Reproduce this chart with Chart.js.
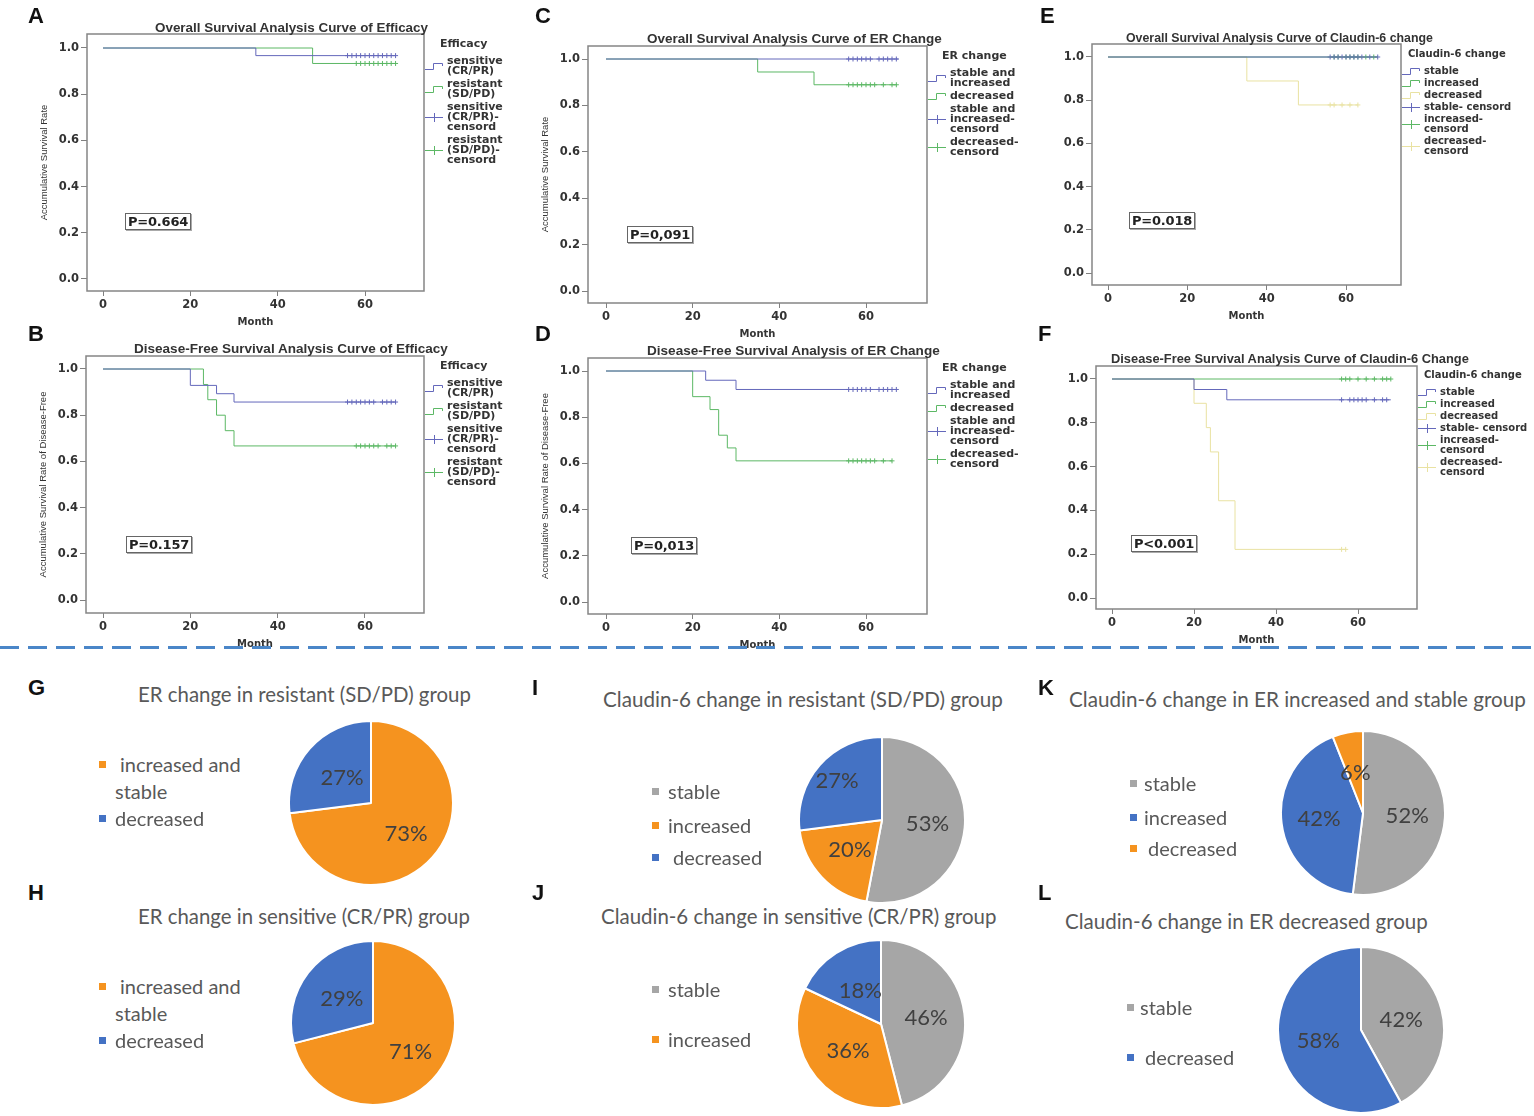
<!DOCTYPE html>
<html>
<head>
<meta charset="utf-8">
<script src="https://cdn.jsdelivr.net/npm/chart.js@4.4.1/dist/chart.umd.min.js"></script>
<style>
  body { margin: 0; background: #fff; }
  #page { position: relative; width: 1534px; height: 1116px; overflow: hidden; font-family: "Liberation Sans", Arial, sans-serif; }
  canvas { position: absolute; }
  .letter { position: absolute; font: bold 22px "Liberation Sans", Arial, sans-serif; color: #111; line-height: 22px; }
  .kmTitle { position: absolute; font: bold 11px "Liberation Sans", Arial, sans-serif; color: #333; white-space: nowrap; line-height: 12px; }
  .pbox { position: absolute; font: bold 13px "DejaVu Sans", sans-serif; color: #222; border: 1px solid #666; box-shadow: 1px 1px 0 #aaa; padding: 0 2px; line-height: 15px; background: #fff; letter-spacing: -0.2px; }
  .kmLeg { position: absolute; font: bold 11px "DejaVu Sans", sans-serif; color: #333; }
  .kmLeg .ttl { line-height: 12px; margin-bottom: 6px; white-space: nowrap; }
  .kmLeg .it { display: flex; align-items: center; margin-bottom: 3px; }
  .kmLeg .it div { line-height: 10px; white-space: pre; margin-left: 2px; }
  .pieTitle { position: absolute; font: 19px Lato, "Open Sans", sans-serif; color: #595959; white-space: nowrap; line-height: 22px; }
  .pieLeg { position: absolute; font: 20px Lato, "Open Sans", sans-serif; color: #595959; line-height: 27px; }
  .pieLeg .mk { position: absolute; width: 7px; height: 7px; }
  .divider { position: absolute; left: 0; top: 646px; width: 1534px; height: 3px;
             background: repeating-linear-gradient(90deg, #4a86c8 0 19px, transparent 19px 28px); }
</style>
</head>
<body>
<div id="page"></div>
<script>
// ---------- shared axis ticks ----------
const monthTicks = [0, 20, 40, 60];
const rateTicks = [0, 0.2, 0.4, 0.6, 0.8, 1.0];

// ---------- A: overall survival by efficacy ----------
const osEffSensTime = [0, 35, 67];
const osEffSensRate = [1, 0.967, 0.967];
const osEffSensCens = [56, 57, 58, 59, 60, 61, 62, 63, 64, 65, 66, 67];
const osEffResTime = [0, 48, 67];
const osEffResRate = [1, 0.933, 0.933];
const osEffResCens = [58, 59, 60, 61, 62, 63, 64, 65, 66, 67];

// ---------- B: disease-free survival by efficacy ----------
const dfsEffSensTime = [0, 20, 26, 30, 67];
const dfsEffSensRate = [1, 0.929, 0.893, 0.857, 0.857];
const dfsEffSensCens = [56, 57, 58, 59, 60, 61, 62, 64, 65, 66, 67];
const dfsEffResTime = [0, 23, 24, 26, 28, 30, 67];
const dfsEffResRate = [1, 0.933, 0.867, 0.8, 0.733, 0.667, 0.667];
const dfsEffResCens = [58, 59, 60, 61, 62, 63, 65, 66, 67];

// ---------- C: overall survival by ER change ----------
const osErIncTime = [0, 67.5];
const osErIncRate = [1, 1];
const osErIncCens = [56, 57, 58, 59, 60, 61, 63, 64, 65, 66, 67];
const osErDecTime = [0, 35, 48, 67];
const osErDecRate = [1, 0.944, 0.889, 0.889];
const osErDecCens = [56, 57, 58, 59, 60, 61, 62, 64, 66, 67];

// ---------- D: disease-free survival by ER change ----------
const dfsErIncTime = [0, 23, 30, 67];
const dfsErIncRate = [1, 0.96, 0.92, 0.92];
const dfsErIncCens = [56, 57, 58, 59, 60, 61, 63, 64, 65, 66, 67];
const dfsErDecTime = [0, 20, 24, 26, 28, 30, 66];
const dfsErDecRate = [1, 0.889, 0.833, 0.722, 0.667, 0.611, 0.611];
const dfsErDecCens = [56, 57, 58, 59, 60, 61, 62, 64, 66];

// ---------- E: overall survival by Claudin-6 change ----------
const osClStaTime = [0, 68];
const osClStaRate = [1, 1];
const osClStaCens = [56, 57, 58, 59, 60, 61, 62, 63, 64, 66, 68];
const osClIncTime = [0, 68];
const osClIncRate = [1, 1];
const osClIncCens = [57, 58, 60, 61, 62, 63, 65, 67];
const osClDecTime = [0, 35, 48, 63];
const osClDecRate = [1, 0.889, 0.778, 0.778];
const osClDecCens = [56, 57, 59, 61, 63];

// ---------- F: disease-free survival by Claudin-6 change ----------
const dfsClStaTime = [0, 20, 28, 68];
const dfsClStaRate = [1, 0.952, 0.905, 0.905];
const dfsClStaCens = [56, 58, 59, 60, 61, 62, 64, 66, 67];
const dfsClIncTime = [0, 68];
const dfsClIncRate = [1, 1];
const dfsClIncCens = [56, 57, 58, 60, 62, 64, 66, 67, 68];
const dfsClDecTime = [0, 20, 23, 24, 26, 30, 57];
const dfsClDecRate = [1, 0.889, 0.778, 0.667, 0.444, 0.222, 0.222];
const dfsClDecCens = [56, 57];

// ---------- legend texts ----------
const effLegend = ['sensitive\n(CR/PR)', 'resistant\n(SD/PD)', 'sensitive\n(CR/PR)-\ncensord', 'resistant\n(SD/PD)-\ncensord'];
const erLegend = ['stable and\nincreased', 'decreased', 'stable and\nincreased-\ncensord', 'decreased-\ncensord'];
const clLegend = ['stable', 'increased', 'decreased', 'stable- censord', 'increased-\ncensord', 'decreased-\ncensord'];

// ---------- pie data ----------
const pieGLabels = ['increased and stable', 'decreased'];
const pieGValues = [73, 27];
const pieHLabels = ['increased and stable', 'decreased'];
const pieHValues = [71, 29];
const pieILabels = ['stable', 'increased', 'decreased'];
const pieIValues = [53, 20, 27];
const pieJLabels = ['stable', 'increased', 'decreased'];
const pieJValues = [46, 36, 18];
const pieKLabels = ['stable', 'increased', 'decreased'];
const pieKValues = [52, 42, 6];
const pieLLabels = ['stable', 'decreased'];
const pieLValues = [42, 58];

// ---------- colours ----------
const kmBlue = '#6468bb';
const kmGreen = '#5cb865';
const kmYellow = '#e9e2a2';
const pOrange = '#f5931f';
const pBlue = '#4472c4';
const pGray = '#a6a6a6';

const page = document.getElementById('page');

function addDiv(cls, html, style) {
    const d = document.createElement('div');
    d.className = cls;
    d.innerHTML = html;
    Object.assign(d.style, style);
    page.appendChild(d);
    return d;
}

// stretch a one-line label so it spans from its left edge to the given right edge
function fitWidth(el, right) {
    const target = right - parseFloat(el.style.left);
    const w = el.getBoundingClientRect().width;
    const fs = parseFloat(getComputedStyle(el).fontSize);
    if (w > 0) el.style.fontSize = (fs * target / w).toFixed(2) + 'px';
}

function setCanvasBox(c, left, top, w, h) {
    c.width = w; c.height = h;
    c.style.left = left + 'px'; c.style.top = top + 'px';
    c.style.width = w + 'px'; c.style.height = h + 'px';
}

function addCanvas(left, top, w, h) {
    const c = document.createElement('canvas');
    page.appendChild(c);
    setCanvasBox(c, left, top, w, h);
    return c;
}

// --- KM helpers ---
const stepPoints = (times, rates) => times.map((t, i) => ({ x: t, y: rates[i] }));
const rateAt = (times, rates, t) => {
    let r = rates[0];
    times.forEach((tt, i) => { if (tt <= t) r = rates[i]; });
    return r;
};

const noPad = s => { s.paddingTop = 0; s.paddingBottom = 0; s.paddingLeft = 0; s.paddingRight = 0; };

// draws the SPSS-style box round the plot area
const framePlugin = {
    id: 'frame',
    afterDatasetsDraw(chart) {
        const { ctx, chartArea: a } = chart;
        ctx.save();
        ctx.strokeStyle = '#858585';
        ctx.lineWidth = 1.5;
        ctx.strokeRect(a.left, a.top, a.right - a.left, a.bottom - a.top);
        ctx.restore();
    }
};

const tickFont = { family: 'DejaVu Sans', size: 11.5, weight: 'bold' };

function kmChart(p) {
    const [L, T, R, B] = p.box;
    const [x0, x60, y1, y0] = p.ref;
    const pxMonth = (x60 - x0) / 60;
    const pxRate = y0 - y1;
    const padL = 60, padB = 40;

    const makeConfig = () => {
        const datasets = [];
        p.curves.forEach(c => {
            datasets.push({
                type: 'line', data: stepPoints(c.t, c.s), borderColor: c.color, borderWidth: 1,
                stepped: 'before', pointRadius: 0, fill: false
            });
        });
        p.curves.forEach(c => {
            datasets.push({
                type: 'scatter', data: c.cens.map(t => ({ x: t, y: rateAt(c.t, c.s, t) })),
                pointStyle: 'cross', pointRadius: 2.5, borderColor: c.color, borderWidth: 1
            });
        });
        return {
            type: 'scatter',
            data: { datasets },
            options: {
                responsive: false, maintainAspectRatio: false, animation: false, events: [],
                layout: { padding: { top: 2, right: 4, left: 0, bottom: 0 } },
                plugins: { legend: { display: false }, tooltip: { enabled: false } },
                scales: {
                    x: {
                        type: 'linear',
                        min: (L - x0) / pxMonth, max: (R - x0) / pxMonth,
                        afterBuildTicks: s => { s.ticks = monthTicks.map(v => ({ value: v })); },
                        afterFit: s => { s.height = padB; noPad(s); },
                        grid: { drawOnChartArea: false, tickLength: 5, color: '#808080' },
                        border: { display: false },
                        ticks: { font: tickFont, color: '#333', padding: 2, maxRotation: 0 },
                        title: { display: true, text: 'Month', color: '#333',
                                 font: { family: 'DejaVu Sans', size: 10, weight: 'bold' },
                                 padding: { top: 0, bottom: 3 } }
                    },
                    y: {
                        type: 'linear',
                        min: -(B - y0) / pxRate, max: 1 + (y1 - T) / pxRate,
                        afterBuildTicks: s => { s.ticks = rateTicks.map(v => ({ value: v })); },
                        afterFit: s => { s.width = padL; noPad(s); },
                        grid: { drawOnChartArea: false, tickLength: 6, color: '#808080' },
                        border: { display: false },
                        ticks: { font: tickFont, color: '#333', padding: 2, callback: v => v.toFixed(1) },
                        title: { display: !!p.yTitle, text: p.yTitle || '', color: '#333',
                                 font: { family: 'Liberation Sans', size: 9.5 },
                                 padding: { top: 12, bottom: 0 } }
                    }
                }
            },
            plugins: [framePlugin]
        };
    };

    // first pass measures where Chart.js puts the plot area, second pass lands it on the reference box
    const w0 = (R - L) + padL + 4, h0 = (B - T) + 2 + padB;
    const canvas = addCanvas(L - padL, T - 2, w0, h0);
    const probe = new Chart(canvas, makeConfig());
    const a = { ...probe.chartArea };
    probe.destroy();
    const w1 = w0 + (R - L) - (a.right - a.left);
    const h1 = h0 + (B - T) - (a.bottom - a.top);
    setCanvasBox(canvas, L - a.left, T - a.top, w1, h1);
    new Chart(canvas, makeConfig());

    // title, p-value, legend
    const t = addDiv('kmTitle', p.title, { left: p.titleX + 'px', top: (p.titleY - 6) + 'px' });
    fitWidth(t, p.titleR);
    addDiv('pbox', p.pval, { left: p.pX + 'px', top: p.pY + 'px' });

    const leg = addDiv('kmLeg', '', { left: (R + 1) + 'px', top: p.legTop + 'px', fontSize: (p.legSize || 11) + 'px' });
    const ttl = document.createElement('div');
    ttl.className = 'ttl';
    ttl.textContent = p.legTitle;
    ttl.style.marginLeft = p.legTitleIndent + 'px';
    leg.appendChild(ttl);
    const kinds = p.legKinds;
    p.legLabels.forEach((lab, i) => {
        const c = p.curves[kinds[i].c].color;
        const it = document.createElement('div');
        it.className = 'it';
        it.style.marginBottom = (p.legGap ?? 3) + 'px';
        const svg = kinds[i].k === 'line'
            ? `<svg width="20" height="10"><path d="M0 8.5 H8.5 V2.5 H17.5 V5" stroke="${c}" fill="none" stroke-width="1"/></svg>`
            : `<svg width="20" height="10"><path d="M0 5.5 H18 M9.5 1 V10" stroke="${c}" fill="none" stroke-width="1"/></svg>`;
        it.innerHTML = svg + '<div></div>';
        it.querySelector('div').textContent = lab;
        leg.appendChild(it);
    });
}

const twoKinds = [{ k: 'line', c: 0 }, { k: 'line', c: 1 }, { k: 'cens', c: 0 }, { k: 'cens', c: 1 }];
const threeKinds = [{ k: 'line', c: 0 }, { k: 'line', c: 1 }, { k: 'line', c: 2 }, { k: 'cens', c: 0 }, { k: 'cens', c: 1 }, { k: 'cens', c: 2 }];

const kmPanels = [
    { box: [87, 34, 424, 291], ref: [103, 365, 48, 279], yTitle: 'Accumulative Survival Rate',
      title: 'Overall Survival Analysis Curve of Efficacy', titleX: 155, titleR: 428, titleY: 28,
      pval: 'P=0.664', pX: 125, pY: 213, legTop: 38, legTitle: 'Efficacy', legTitleIndent: 15,
      legLabels: effLegend, legKinds: twoKinds,
      curves: [{ t: osEffSensTime, s: osEffSensRate, cens: osEffSensCens, color: kmBlue },
               { t: osEffResTime, s: osEffResRate, cens: osEffResCens, color: kmGreen }] },
    { box: [86, 356, 424, 613], ref: [103, 365, 369, 600], yTitle: 'Accumulative Survival Rate of Disease-Free',
      title: 'Disease-Free Survival Analysis Curve of Efficacy', titleX: 134, titleR: 448, titleY: 349,
      pval: 'P=0.157', pX: 126, pY: 536, legTop: 360, legTitle: 'Efficacy', legTitleIndent: 15,
      legLabels: effLegend, legKinds: twoKinds,
      curves: [{ t: dfsEffSensTime, s: dfsEffSensRate, cens: dfsEffSensCens, color: kmBlue },
               { t: dfsEffResTime, s: dfsEffResRate, cens: dfsEffResCens, color: kmGreen }] },
    { box: [588, 46, 927, 303], ref: [606, 866, 59, 291], yTitle: 'Accumulative Survival Rate',
      title: 'Overall Survival Analysis Curve of ER Change', titleX: 647, titleR: 942, titleY: 39,
      pval: 'P=0,091', pX: 627, pY: 226, legTop: 50, legTitle: 'ER change', legTitleIndent: 14,
      legLabels: erLegend, legKinds: twoKinds,
      curves: [{ t: osErIncTime, s: osErIncRate, cens: osErIncCens, color: kmBlue },
               { t: osErDecTime, s: osErDecRate, cens: osErDecCens, color: kmGreen }] },
    { box: [588, 358, 927, 614], ref: [606, 866, 371, 602], yTitle: 'Accumulative Survival Rate of Disease-Free',
      title: 'Disease-Free Survival Analysis of ER Change', titleX: 647, titleR: 940, titleY: 351,
      pval: 'P=0,013', pX: 631, pY: 537, legTop: 362, legTitle: 'ER change', legTitleIndent: 14,
      legLabels: erLegend, legKinds: twoKinds,
      curves: [{ t: dfsErIncTime, s: dfsErIncRate, cens: dfsErIncCens, color: kmBlue },
               { t: dfsErDecTime, s: dfsErDecRate, cens: dfsErDecCens, color: kmGreen }] },
    { box: [1092, 44, 1401, 285], ref: [1108, 1346, 57, 273], yTitle: '',
      title: 'Overall Survival Analysis Curve of Claudin-6 change', titleX: 1126, titleR: 1433, titleY: 38,
      pval: 'P=0.018', pX: 1129, pY: 212, legTop: 48, legTitle: 'Claudin-6 change', legTitleIndent: 6,
      legLabels: clLegend, legKinds: threeKinds, legSize: 10, legGap: 2,
      curves: [{ t: osClStaTime, s: osClStaRate, cens: osClStaCens, color: kmBlue },
               { t: osClIncTime, s: osClIncRate, cens: osClIncCens, color: kmGreen },
               { t: osClDecTime, s: osClDecRate, cens: osClDecCens, color: kmYellow }] },
    { box: [1096, 366, 1417, 609], ref: [1112, 1358, 379, 598], yTitle: '',
      title: 'Disease-Free Survival Analysis Curve of Claudin-6 Change', titleX: 1111, titleR: 1469, titleY: 359,
      pval: 'P&lt;0.001', pX: 1131, pY: 535, legTop: 369, legTitle: 'Claudin-6 change', legTitleIndent: 6,
      legLabels: clLegend, legKinds: threeKinds, legSize: 10, legGap: 2,
      curves: [{ t: dfsClStaTime, s: dfsClStaRate, cens: dfsClStaCens, color: kmBlue },
               { t: dfsClIncTime, s: dfsClIncRate, cens: dfsClIncCens, color: kmGreen },
               { t: dfsClDecTime, s: dfsClDecRate, cens: dfsClDecCens, color: kmYellow }] }
];
kmPanels.forEach(kmChart);

// ---------- pies ----------
const pctPlugin = {
    id: 'pct',
    afterDatasetsDraw(chart, args, opts) {
        const { ctx } = chart;
        const meta = chart.getDatasetMeta(0);
        const vals = chart.data.datasets[0].data;
        ctx.save();
        ctx.font = '22px Lato';
        ctx.fillStyle = '#404040';
        ctx.textAlign = 'center';
        ctx.textBaseline = 'middle';
        meta.data.forEach((arc, i) => {
            const { x, y, startAngle, endAngle, outerRadius } = arc.getProps(['x', 'y', 'startAngle', 'endAngle', 'outerRadius'], true);
            const mid = (startAngle + endAngle) / 2;
            const f = (opts.dist && opts.dist[i]) || 0.56;
            ctx.fillText(vals[i] + '%', x + Math.cos(mid) * outerRadius * f, y + Math.sin(mid) * outerRadius * f);
        });
        ctx.restore();
    }
};

function pieChart(p) {
    const size = 2 * p.r + 2;
    const canvas = addCanvas(p.cx - p.r - 1, p.cy - p.r - 1, size, size);
    new Chart(canvas, {
        type: 'pie',
        data: { labels: p.labels, datasets: [{ data: p.values, backgroundColor: p.colors,
                borderColor: '#fff', borderWidth: 2, hoverOffset: 0, offset: 0 }] },
        options: {
            responsive: false, animation: false, events: [],
            layout: { padding: 0 },
            plugins: { legend: { display: false }, tooltip: { enabled: false }, pct: { dist: p.dist } }
        },
        plugins: [pctPlugin]
    });
    const t = addDiv('pieTitle', p.title, { left: p.titleX + 'px', top: (p.titleY - 11) + 'px' });
    fitWidth(t, p.titleR);
    p.leg.forEach((l, i) => {
        if (l === null) return;
        const d = addDiv('pieLeg', '', { left: l.tx + 'px', top: (l.y - 13) + 'px', width: (l.w || 200) + 'px', textIndent: (l.indent || 0) + 'px' });
        d.textContent = p.labels[i];
        const mk = document.createElement('div');
        mk.className = 'mk';
        mk.style.background = p.colors[i];
        mk.style.left = (p.mkX - l.tx) + 'px';
        mk.style.top = '10px';
        d.appendChild(mk);
    });
}

const pies = [
    { cx: 371, cy: 803, r: 82, labels: pieGLabels, values: pieGValues, colors: [pOrange, pBlue], dist: [0.57, 0.47],
      title: 'ER change in resistant (SD/PD) group', titleX: 138, titleR: 471, titleY: 694, mkX: 99,
      leg: [{ tx: 115, y: 764, w: 140, indent: 5 }, { tx: 115, y: 818 }] },
    { cx: 373, cy: 1023, r: 82, labels: pieHLabels, values: pieHValues, colors: [pOrange, pBlue], dist: [0.58, 0.48],
      title: 'ER change in sensitive (CR/PR) group', titleX: 138, titleR: 470, titleY: 916, mkX: 99,
      leg: [{ tx: 115, y: 986, w: 140, indent: 5 }, { tx: 115, y: 1040 }] },
    { cx: 882, cy: 820, r: 83, labels: pieILabels, values: pieIValues, colors: [pGray, pOrange, pBlue], dist: [0.55, 0.53, 0.72],
      title: 'Claudin-6 change in resistant (SD/PD) group', titleX: 603, titleR: 1003, titleY: 699, mkX: 652,
      leg: [{ tx: 668, y: 791 }, { tx: 668, y: 825 }, { tx: 673, y: 857 }] },
    { cx: 881, cy: 1024, r: 84, labels: pieJLabels, values: pieJValues, colors: [pGray, pOrange, pBlue], dist: [0.54, 0.51, 0.46],
      title: 'Claudin-6 change in sensitive (CR/PR) group', titleX: 601, titleR: 997, titleY: 916, mkX: 652,
      leg: [{ tx: 668, y: 989 }, { tx: 668, y: 1039 }, null] },
    { cx: 1363, cy: 813, r: 82, labels: pieKLabels, values: pieKValues, colors: [pGray, pBlue, pOrange], dist: [0.54, 0.54, 0.5],
      title: 'Claudin-6 change in ER increased and stable group', titleX: 1069, titleR: 1526, titleY: 699, mkX: 1130,
      leg: [{ tx: 1144, y: 783 }, { tx: 1144, y: 817 }, { tx: 1148, y: 848 }] },
    { cx: 1361, cy: 1030, r: 83, labels: pieLLabels, values: pieLValues, colors: [pGray, pBlue], dist: [0.5, 0.53],
      title: 'Claudin-6 change in ER decreased group', titleX: 1065, titleR: 1428, titleY: 921, mkX: 1127,
      leg: [{ tx: 1140, y: 1007 }, { tx: 1145, y: 1057 }] }
];
pies.forEach(pieChart);

// ---------- panel letters and divider ----------
const letters = [['A', 28, 5], ['B', 28, 323], ['C', 535, 5], ['D', 535, 323], ['E', 1040, 5], ['F', 1038, 323],
                 ['G', 28, 677], ['H', 28, 882], ['I', 532, 677], ['J', 532, 882], ['K', 1038, 677], ['L', 1038, 882]];
letters.forEach(([t, x, y]) => addDiv('letter', t, { left: x + 'px', top: y + 'px' }));
addDiv('divider', '', {});
</script>
</body>
</html>
